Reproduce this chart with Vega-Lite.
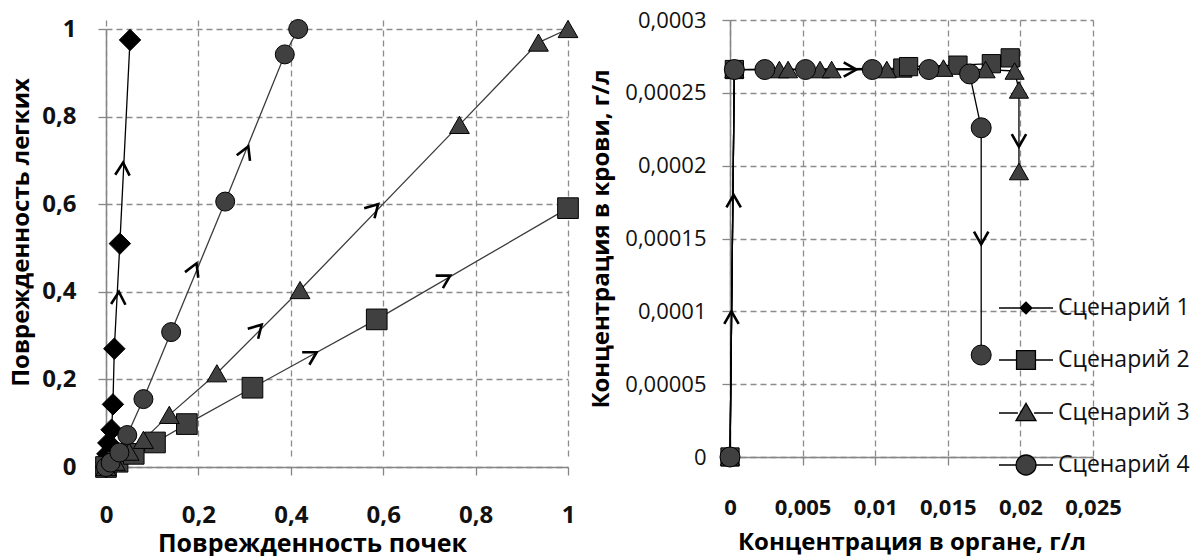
{
  "$schema": "https://vega.github.io/schema/vega-lite/v6.json",
  "background": "white",
  "padding": {"left": 9, "top": 9, "right": 0, "bottom": 0},
  "spacing": 8,
  "config": {
    "font": "Open Sans",
    "view": {"stroke": null},
    "axis": {
      "grid": true, "gridDash": [6, 4], "gridColor": "#8c8c8c", "gridWidth": 1.3,
      "domainColor": "#868686", "domainWidth": 1.5,
      "tickColor": "#868686", "tickSize": 8, "tickWidth": 1.3,
      "labelColor": "#111111", "titleColor": "#000000",
      "titleFontWeight": "bold", "titleFontSize": 24,
      "labelFlush": false, "labelOverlap": false
    }
  },
  "datasets": {
    "left": [
      {"scenario": "Сценарий 1", "kidney": 0, "lung": 0.0},
      {"scenario": "Сценарий 1", "kidney": 0.001, "lung": 0.01},
      {"scenario": "Сценарий 1", "kidney": 0.003, "lung": 0.03},
      {"scenario": "Сценарий 1", "kidney": 0.005, "lung": 0.055},
      {"scenario": "Сценарий 1", "kidney": 0.012, "lung": 0.085},
      {"scenario": "Сценарий 1", "kidney": 0.015, "lung": 0.143},
      {"scenario": "Сценарий 1", "kidney": 0.018, "lung": 0.27},
      {"scenario": "Сценарий 1", "kidney": 0.03, "lung": 0.51},
      {"scenario": "Сценарий 1", "kidney": 0.052, "lung": 0.975},
      {"scenario": "Сценарий 2", "kidney": 0, "lung": 0},
      {"scenario": "Сценарий 2", "kidney": 0.025, "lung": 0.012},
      {"scenario": "Сценарий 2", "kidney": 0.06, "lung": 0.03},
      {"scenario": "Сценарий 2", "kidney": 0.106, "lung": 0.056},
      {"scenario": "Сценарий 2", "kidney": 0.175, "lung": 0.098},
      {"scenario": "Сценарий 2", "kidney": 0.317, "lung": 0.181},
      {"scenario": "Сценарий 2", "kidney": 0.586, "lung": 0.337},
      {"scenario": "Сценарий 2", "kidney": 1.0, "lung": 0.591},
      {"scenario": "Сценарий 3", "kidney": 0, "lung": 0},
      {"scenario": "Сценарий 3", "kidney": 0.02, "lung": 0.012},
      {"scenario": "Сценарий 3", "kidney": 0.05, "lung": 0.035},
      {"scenario": "Сценарий 3", "kidney": 0.081, "lung": 0.062},
      {"scenario": "Сценарий 3", "kidney": 0.137, "lung": 0.119},
      {"scenario": "Сценарий 3", "kidney": 0.24, "lung": 0.214},
      {"scenario": "Сценарий 3", "kidney": 0.42, "lung": 0.404},
      {"scenario": "Сценарий 3", "kidney": 0.765, "lung": 0.781},
      {"scenario": "Сценарий 3", "kidney": 0.936, "lung": 0.969},
      {"scenario": "Сценарий 3", "kidney": 1.0, "lung": 1.0},
      {"scenario": "Сценарий 4", "kidney": 0, "lung": 0},
      {"scenario": "Сценарий 4", "kidney": 0.01, "lung": 0.01},
      {"scenario": "Сценарий 4", "kidney": 0.029, "lung": 0.033},
      {"scenario": "Сценарий 4", "kidney": 0.046, "lung": 0.073},
      {"scenario": "Сценарий 4", "kidney": 0.081, "lung": 0.155},
      {"scenario": "Сценарий 4", "kidney": 0.141, "lung": 0.308},
      {"scenario": "Сценарий 4", "kidney": 0.258, "lung": 0.606},
      {"scenario": "Сценарий 4", "kidney": 0.387, "lung": 0.942},
      {"scenario": "Сценарий 4", "kidney": 0.416, "lung": 1.0}
    ],
    "leftArrows": [
      {"scenario": "Сценарий 1", "kidney": 0.028, "lung": 0.4},
      {"scenario": "Сценарий 1", "kidney": 0.037, "lung": 0.695},
      {"scenario": "Сценарий 4", "kidney": 0.196, "lung": 0.465},
      {"scenario": "Сценарий 4", "kidney": 0.308, "lung": 0.732},
      {"scenario": "Сценарий 3", "kidney": 0.337, "lung": 0.325},
      {"scenario": "Сценарий 3", "kidney": 0.589, "lung": 0.6},
      {"scenario": "Сценарий 2", "kidney": 0.456, "lung": 0.262},
      {"scenario": "Сценарий 2", "kidney": 0.745, "lung": 0.437}
    ],
    "right": [
      {"scenario": "Сценарий 1", "organ": 0, "blood": 0},
      {"scenario": "Сценарий 1", "organ": 0.0003, "blood": 0.000266},
      {"scenario": "Сценарий 2", "organ": 0, "blood": 0},
      {"scenario": "Сценарий 2", "organ": 0.0003, "blood": 0.000266},
      {"scenario": "Сценарий 2", "organ": 0.0119, "blood": 0.000267},
      {"scenario": "Сценарий 2", "organ": 0.0123, "blood": 0.000268},
      {"scenario": "Сценарий 2", "organ": 0.0157, "blood": 0.000269},
      {"scenario": "Сценарий 2", "organ": 0.018, "blood": 0.00027},
      {"scenario": "Сценарий 2", "organ": 0.0193, "blood": 0.000274},
      {"scenario": "Сценарий 3", "organ": 0, "blood": 0},
      {"scenario": "Сценарий 3", "organ": 0.0003, "blood": 0.000266},
      {"scenario": "Сценарий 3", "organ": 0.0034, "blood": 0.000266},
      {"scenario": "Сценарий 3", "organ": 0.004, "blood": 0.000266},
      {"scenario": "Сценарий 3", "organ": 0.0062, "blood": 0.000266},
      {"scenario": "Сценарий 3", "organ": 0.007, "blood": 0.000266},
      {"scenario": "Сценарий 3", "organ": 0.0108, "blood": 0.000266},
      {"scenario": "Сценарий 3", "organ": 0.0147, "blood": 0.000267},
      {"scenario": "Сценарий 3", "organ": 0.0176, "blood": 0.000266},
      {"scenario": "Сценарий 3", "organ": 0.0196, "blood": 0.000265},
      {"scenario": "Сценарий 3", "organ": 0.0199, "blood": 0.000252},
      {"scenario": "Сценарий 3", "organ": 0.0199, "blood": 0.000196},
      {"scenario": "Сценарий 4", "organ": 0, "blood": 0},
      {"scenario": "Сценарий 4", "organ": 0.0003, "blood": 0.000266},
      {"scenario": "Сценарий 4", "organ": 0.0024, "blood": 0.000266},
      {"scenario": "Сценарий 4", "organ": 0.0052, "blood": 0.000266},
      {"scenario": "Сценарий 4", "organ": 0.0098, "blood": 0.000266},
      {"scenario": "Сценарий 4", "organ": 0.0137, "blood": 0.000266},
      {"scenario": "Сценарий 4", "organ": 0.0165, "blood": 0.000263},
      {"scenario": "Сценарий 4", "organ": 0.0173, "blood": 0.000226},
      {"scenario": "Сценарий 4", "organ": 0.0173, "blood": 0.00007}
    ],
    "rightArrows": [
      {"dir": "up", "organ": 0.0001, "blood": 0.0001},
      {"dir": "up", "organ": 0.00025, "blood": 0.00018},
      {"dir": "right", "organ": 0.0087, "blood": 0.000266},
      {"dir": "down", "organ": 0.0173, "blood": 0.000146},
      {"dir": "down", "organ": 0.0199, "blood": 0.000213}
    ]
  },
  "resolve": {
    "scale": {"shape": "independent", "fill": "independent", "stroke": "independent", "size": "independent", "angle": "independent"},
    "legend": {"shape": "independent", "fill": "independent", "stroke": "independent", "size": "independent", "angle": "independent"}
  },
  "hconcat": [
    {
      "width": 462,
      "height": 447,
      "layer": [
        {
          "data": {"name": "left"},
          "mark": {"type": "line", "strokeWidth": 1.3},
          "encoding": {
            "x": {
              "field": "kidney", "type": "quantitative",
              "scale": {"domain": [0, 1], "nice": false},
              "axis": {
                "title": "Поврежденность почек",
                "values": [0, 0.2, 0.4, 0.6, 0.8, 1],
                "labelExpr": "replace(format(datum.value, '~f'), '.', ',')",
                "labelFontSize": 24, "labelFontWeight": "bold",
                "labelPadding": 28, "titlePadding": 4,
                "titleFontSize": 25, "titleX": 206
              }
            },
            "y": {
              "field": "lung", "type": "quantitative",
              "scale": {"domain": [0, 1], "nice": false, "range": [447, 9]},
              "axis": {
                "title": "Поврежденность легких",
                "values": [0, 0.2, 0.4, 0.6, 0.8, 1],
                "labelExpr": "replace(format(datum.value, '~f'), '.', ',')",
                "labelFontSize": 24, "labelFontWeight": "bold",
                "labelPadding": 22, "titlePadding": 8,
                "titleY": 212
              }
            },
            "stroke": {
              "field": "scenario", "type": "nominal",
              "scale": {"domain": ["Сценарий 1", "Сценарий 2", "Сценарий 3", "Сценарий 4"], "range": ["#000000", "#3c3c3c", "#3c3c3c", "#3c3c3c"]},
              "legend": null
            },
            "order": {"value": null}
          }
        },
        {
          "data": {"name": "left"},
          "mark": {"type": "point", "filled": true, "opacity": 1, "stroke": "#000000", "strokeWidth": 1},
          "encoding": {
            "x": {"field": "kidney", "type": "quantitative"},
            "y": {"field": "lung", "type": "quantitative"},
            "shape": {
              "field": "scenario", "type": "nominal",
              "scale": {"domain": ["Сценарий 1", "Сценарий 2", "Сценарий 3", "Сценарий 4"], "range": ["diamond", "square", "triangle-up", "circle"]},
              "legend": null
            },
            "fill": {
              "field": "scenario", "type": "nominal",
              "scale": {"domain": ["Сценарий 1", "Сценарий 2", "Сценарий 3", "Сценарий 4"], "range": ["#000000", "#404040", "#404040", "#404040"]},
              "legend": null
            },
            "size": {
              "field": "scenario", "type": "nominal",
              "scale": {"domain": ["Сценарий 1", "Сценарий 2", "Сценарий 3", "Сценарий 4"], "range": [460, 361, 420, 400]},
              "legend": null
            }
          }
        },
        {
          "data": {"name": "leftArrows"},
          "mark": {"type": "point", "shape": "M-0.8,1.4L0,0L0.8,1.4", "filled": false, "stroke": "#000000", "strokeWidth": 2.6, "size": 324, "opacity": 1},
          "encoding": {
            "x": {"field": "kidney", "type": "quantitative"},
            "y": {"field": "lung", "type": "quantitative"},
            "angle": {
              "field": "scenario", "type": "nominal",
              "scale": {"type": "ordinal", "domain": ["Сценарий 1", "Сценарий 2", "Сценарий 3", "Сценарий 4"], "range": [3, 60, 44, 23]},
              "legend": null
            }
          }
        }
      ]
    },
    {
      "width": 363,
      "height": 437,
      "resolve": {"scale": {"shape": "independent", "fill": "independent"}, "legend": {"shape": "independent", "fill": "independent"}},
      "layer": [
        {
          "data": {"name": "right"},
          "mark": {"type": "line", "strokeWidth": 1.3},
          "encoding": {
            "x": {
              "field": "organ", "type": "quantitative",
              "scale": {"domain": [0, 0.025], "nice": false},
              "axis": {
                "title": "Концентрация в органе, г/л",
                "values": [0, 0.005, 0.01, 0.015, 0.02, 0.025],
                "labelExpr": "replace(format(datum.value, '~f'), '.', ',')",
                "labelFontSize": 22, "labelFontWeight": "bold",
                "labelPadding": 32, "titlePadding": 12
              }
            },
            "y": {
              "field": "blood", "type": "quantitative",
              "scale": {"domain": [0, 0.0003], "nice": false},
              "axis": {
                "title": "Концентрация в крови, г/л",
                "values": [0, 0.00005, 0.0001, 0.00015, 0.0002, 0.00025, 0.0003],
                "labelExpr": "replace(format(datum.value, '~f'), '.', ',')",
                "labelFontSize": 22, "labelFontWeight": "normal",
                "labelPadding": 16, "titlePadding": 11
              }
            },
            "stroke": {
              "field": "scenario", "type": "nominal",
              "scale": {"domain": ["Сценарий 1", "Сценарий 2", "Сценарий 3", "Сценарий 4"], "range": ["#000000", "#000000", "#000000", "#000000"]},
              "legend": null
            },
            "order": {"value": null}
          }
        },
        {
          "data": {"name": "right"},
          "mark": {"type": "point", "filled": true, "opacity": 1, "stroke": "#000000", "strokeWidth": 1},
          "encoding": {
            "x": {"field": "organ", "type": "quantitative"},
            "y": {"field": "blood", "type": "quantitative"},
            "shape": {
              "field": "scenario", "type": "nominal",
              "scale": {"domain": ["Сценарий 1", "Сценарий 2", "Сценарий 3", "Сценарий 4"], "range": ["diamond", "square", "triangle-up", "circle"]},
              "legend": null
            },
            "fill": {
              "field": "scenario", "type": "nominal",
              "scale": {"domain": ["Сценарий 1", "Сценарий 2", "Сценарий 3", "Сценарий 4"], "range": ["#000000", "#404040", "#404040", "#404040"]},
              "legend": null
            },
            "size": {
              "field": "scenario", "type": "nominal",
              "scale": {"domain": ["Сценарий 1", "Сценарий 2", "Сценарий 3", "Сценарий 4"], "range": [300, 400, 420, 440]},
              "legend": null
            }
          }
        },
        {
          "data": {"name": "rightArrows"},
          "mark": {"type": "point", "shape": "M-0.8,1.4L0,0L0.8,1.4", "filled": false, "stroke": "#000000", "strokeWidth": 2.6, "size": 324, "opacity": 1},
          "encoding": {
            "x": {"field": "organ", "type": "quantitative"},
            "y": {"field": "blood", "type": "quantitative"},
            "angle": {
              "field": "dir", "type": "nominal",
              "scale": {"type": "ordinal", "domain": ["up", "right", "down"], "range": [0, 90, 180]},
              "legend": null
            }
          }
        },
        {
          "data": {"name": "right"},
          "mark": {"type": "point", "opacity": 0, "filled": true, "color": "#404040", "stroke": "#000000", "strokeWidth": 1.3},
          "encoding": {
            "x": {"field": "organ", "type": "quantitative"},
            "y": {"field": "blood", "type": "quantitative"},
            "shape": {
              "field": "scenario", "type": "nominal",
              "scale": {
                "domain": ["Сценарий 1", "Сценарий 2", "Сценарий 3", "Сценарий 4"],
                "range": [
                  "M-1,0H1M-0.22,0L0,-0.22L0.22,0L0,0.22Z",
                  "M-1,0H-0.35M0.35,0H1M-0.35,-0.35H0.35V0.35H-0.35Z",
                  "M-1,0H-0.3M0.3,0H1M0,-0.36L0.37,0.28L-0.37,0.28Z",
                  "M-1,0H-0.37M0.37,0H1M0.37,0A0.37,0.37,0,1,1,-0.37,0A0.37,0.37,0,1,1,0.37,0Z"
                ]
              },
              "legend": {
                "title": null,
                "orient": "none",
                "legendX": 268,
                "legendY": 260,
                "padding": 0,
                "symbolSize": 2916,
                "symbolOpacity": 1,
                "symbolStrokeWidth": 1.3,
                "labelFontSize": 23,
                "labelColor": "#111111",
                "labelOffset": 4,
                "rowPadding": 12
              }
            },
            "fill": {
              "field": "scenario", "type": "nominal",
              "scale": {"domain": ["Сценарий 1", "Сценарий 2", "Сценарий 3", "Сценарий 4"], "range": ["#000000", "#404040", "#404040", "#404040"]},
              "legend": {
                "title": null,
                "orient": "none",
                "legendX": 268,
                "legendY": 260,
                "padding": 0,
                "symbolSize": 2916,
                "symbolOpacity": 1,
                "symbolStrokeWidth": 1.3,
                "labelFontSize": 23,
                "labelColor": "#111111",
                "labelOffset": 4,
                "rowPadding": 12
              }
            }
          }
        }
      ]
    }
  ]
}
